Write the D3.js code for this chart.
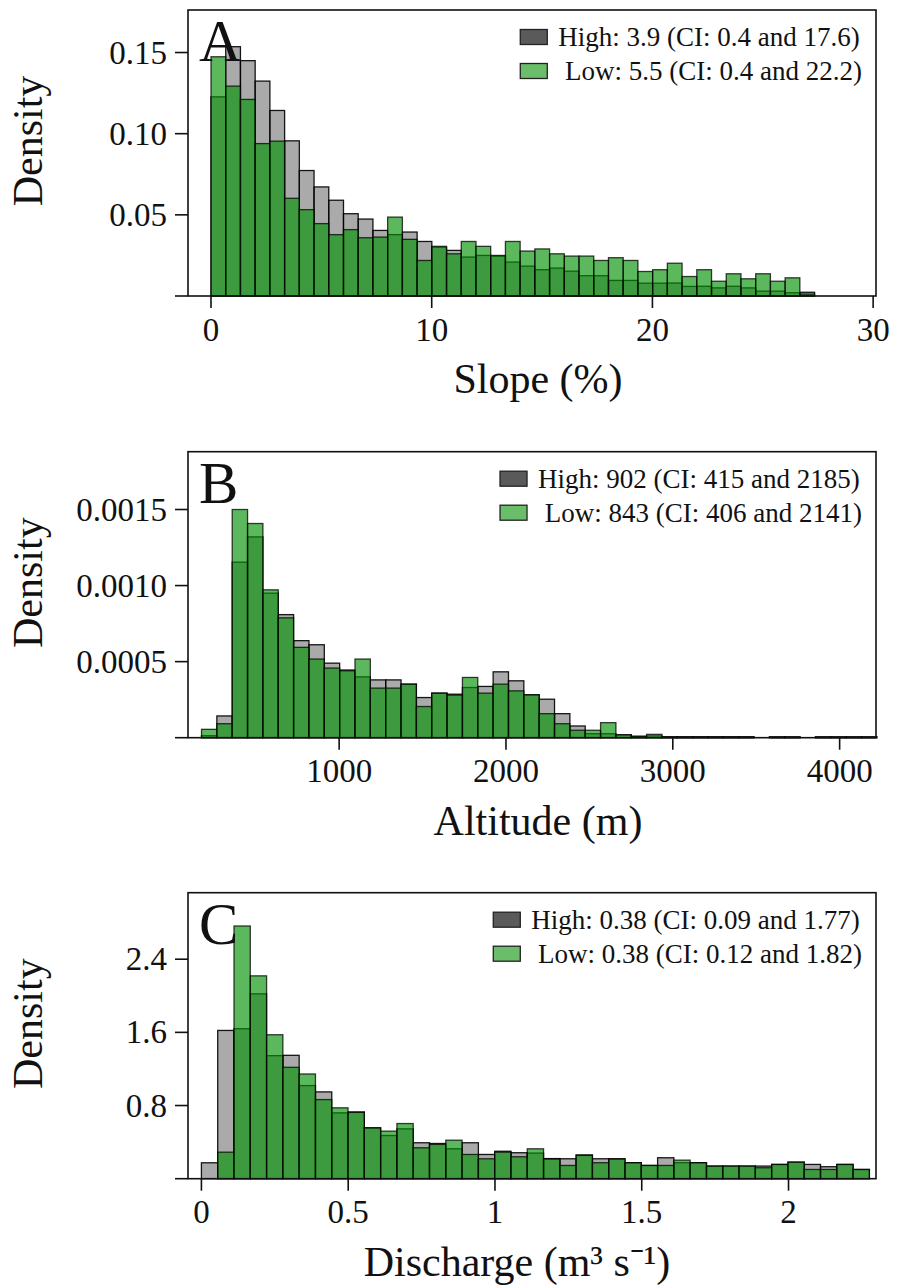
<!DOCTYPE html>
<html>
<head>
<meta charset="utf-8">
<script src="https://cdn.jsdelivr.net/npm/d3@7"></script>
<style>
  body { margin: 0; background: #fff; }
  svg text { font-family: "Liberation Serif", "Times New Roman", serif; fill: #111; white-space: pre; }
</style>
</head>
<body>
<svg width="898" height="1288"></svg>
<script>
// ---- data (density per bin) ----
var slopeStart = 0, slopeBinW = 0.667;
var slopeHigh = [0.1227,0.1536,0.145,0.1324,0.1143,0.0956,0.0773,0.0672,0.059,0.0507,0.0474,0.0404,0.0378,0.0394,0.0336,0.030,0.0281,0.024,0.025,0.0245,0.0209,0.0184,0.0162,0.0172,0.0153,0.0125,0.0125,0.0096,0.0096,0.0079,0.0079,0.008,0.0059,0.006,0.005,0.006,0.005,0.003,0.003,0.002,0.0023];
var slopeLow = [0.1474,0.1293,0.1211,0.0939,0.0954,0.0602,0.0532,0.0446,0.0378,0.0409,0.0359,0.0363,0.0486,0.0349,0.0219,0.0306,0.026,0.0336,0.0306,0.025,0.0336,0.0277,0.029,0.026,0.0246,0.0246,0.0219,0.0236,0.0219,0.0151,0.0162,0.0202,0.012,0.0162,0.0091,0.0137,0.0106,0.0137,0.0091,0.0112,0.0012];
var slopeTicksX = [0, 10, 20, 30];
var slopeTicksY = [0, 0.05, 0.10, 0.15];

var altStart = 175, altBinW = 92;
var altHigh = [0.000013,0.000143,0.001154,0.00132,0.00095,0.000809,0.000638,0.000611,0.00049,0.000445,0.0004,0.00038,0.00038,0.000352,0.000264,0.000293,0.000286,0.00033,0.000337,0.000433,0.000374,0.000282,0.000253,0.000158,0.000077,0.000026,0.000026,0.000018,0.000008,0.000012,0.000006,0.000006,0.000006,0.000006,0.000006,0.000006,0,0.000006,0.000006,0,0.000006,0.000006,0.000006,0.000006];
var altLow = [0.000055,0.000092,0.0015,0.001408,0.000972,0.000788,0.000594,0.000517,0.000458,0.00044,0.000517,0.000326,0.000326,0.000352,0.000205,0.000293,0.00028,0.000396,0.000293,0.000352,0.000308,0.000282,0.000158,0.000092,0.000049,0.000049,0.000099,0.00002,0.00001,0.000022,0.000005,0.000005,0.000005,0.000005,0.000005,0.000005,0,0.000004,0.000004,0,0.000004,0.000004,0.000004,0.000004];
var altTicksX = [1000, 2000, 3000, 4000];
var altTicksY = [0, 0.0005, 0.0010, 0.0015];

var qStart = 0, qBinW = 0.0555;
var qHigh = [0.174,1.621,1.64,2.021,1.345,1.349,1.018,0.949,0.72,0.73,0.556,0.472,0.545,0.393,0.385,0.327,0.393,0.265,0.30,0.284,0.28,0.22,0.218,0.26,0.218,0.218,0.175,0.145,0.229,0.175,0.175,0.138,0.138,0.138,0.138,0.156,0.181,0.156,0.131,0.156,0.101];
var qLow = [0,0.29,2.763,2.218,1.574,1.218,1.145,0.865,0.775,0.725,0.556,0.52,0.603,0.338,0.375,0.421,0.265,0.218,0.29,0.24,0.327,0.215,0.145,0.255,0.175,0.215,0.175,0.145,0.145,0.203,0.175,0.138,0.138,0.138,0.12,0.156,0.181,0.101,0.101,0.156,0.101];
var qTicksX = [0, 0.5, 1, 1.5, 2];
var qTicksY = [0, 0.8, 1.6, 2.4];

var svg = d3.select('svg');
var frameL = 188, frameR = 876, frameH = 286;

var drawPanel = function(p){
	var g = svg.append('g');
	var x = d3.scaleLinear().domain(p.xDom).range([frameL, frameR]);
	var y = d3.scaleLinear().domain([0, p.yMax]).range([p.top + frameH, p.top]);
	var y0 = y(0);

	// bars: High (grey) first, Low (green) on top
	var series = [
		{vals: p.high, fill: 'rgb(85,85,85)', op: 0.5, sop: 0.9},
		{vals: p.low, fill: 'rgb(4,146,4)', op: 0.65, sop: 0.75}
	];
	series.forEach(function(s){
		g.append('g').selectAll('rect')
			.data(s.vals.map(function(v, i){ return {v: v, i: i}; }).filter(function(d){ return d.v > 0; }))
			.enter().append('rect')
			.attr('x', function(d){ return x(p.start + d.i*p.binW); })
			.attr('width', function(d){ return x(p.start + (d.i+1)*p.binW) - x(p.start + d.i*p.binW); })
			.attr('y', function(d){ return y(d.v); })
			.attr('height', function(d){ return y0 - y(d.v); })
			.attr('fill', s.fill).attr('fill-opacity', s.op)
			.attr('stroke', '#000').attr('stroke-opacity', s.sop).attr('stroke-width', 1.3);
	});

	// frame
	g.append('rect').attr('x', frameL).attr('y', p.top).attr('width', frameR-frameL).attr('height', frameH)
		.attr('fill', 'none').attr('stroke', '#111').attr('stroke-width', 1.6);

	// x axis ticks
	var xt = g.append('g');
	p.ticksX.forEach(function(t){
		xt.append('line').attr('x1', x(t)).attr('x2', x(t)).attr('y1', y0).attr('y2', y0+12)
			.attr('stroke', '#111').attr('stroke-width', 1.6);
		xt.append('text').attr('x', x(t)).attr('y', y0+44.5).attr('text-anchor', 'middle')
			.style('font-size', '33px').text(p.fmtX(t));
	});
	// y axis ticks
	p.ticksY.forEach(function(t){
		xt.append('line').attr('x1', frameL-13).attr('x2', frameL).attr('y1', y(t)).attr('y2', y(t))
			.attr('stroke', '#111').attr('stroke-width', 1.6);
		if (t > 0) {
			xt.append('text').attr('x', frameL-21).attr('y', y(t)+11).attr('text-anchor', 'end')
				.style('font-size', '33px').text(p.fmtY(t));
		}
	});

	// axis titles
	g.append('text').attr('x', p.xLabX).attr('y', y0+97).attr('text-anchor', 'middle')
		.style('font-size', '42px').text(p.xLabel);
	g.append('text').attr('transform', 'translate(42,' + (p.top + frameH/2 - 12) + ') rotate(-90)')
		.attr('text-anchor', 'middle').style('font-size', '42px').text('Density');

	// panel letter
	g.append('text').attr('x', 199).attr('y', p.top+51).style('font-size', '59px').text(p.letter);

	// legend
	var leg = g.append('g');
	var labels = [p.legHigh, ' ' + p.legLow];
	var items = labels.map(function(l, i){
		return leg.append('text').attr('y', p.top + 27 + i*34 + 9).style('font-size', '27px').text(l);
	});
	var w = d3.max(items, function(t){ return t.node().getComputedTextLength(); });
	var tx = 862 - w;
	items.forEach(function(t){ t.attr('x', tx); });
	var patchFill = ['rgb(90,90,90)', 'rgb(106,190,106)'];
	[0, 1].forEach(function(i){
		leg.append('rect').attr('x', tx-38).attr('y', p.top + 27 + i*34 - 7.5).attr('width', 27).attr('height', 15)
			.attr('fill', patchFill[i]).attr('stroke', '#222').attr('stroke-width', 1.3);
	});
};

drawPanel({
	letter: 'A', top: 10, xDom: [-1.042, 30.13], yMax: 0.1762,
	start: slopeStart, binW: slopeBinW, high: slopeHigh, low: slopeLow,
	ticksX: slopeTicksX, ticksY: slopeTicksY,
	fmtX: d3.format('d'), fmtY: d3.format('.2f'),
	xLabel: 'Slope (%)', xLabX: 538,
	legHigh: 'High: 3.9 (CI: 0.4 and 17.6)', legLow: 'Low: 5.5 (CI: 0.4 and 22.2)'
});
drawPanel({
	letter: 'B', top: 451.7, xDom: [94, 4218], yMax: 0.00188,
	start: altStart, binW: altBinW, high: altHigh, low: altLow,
	ticksX: altTicksX, ticksY: altTicksY,
	fmtX: d3.format('d'), fmtY: d3.format('.4f'),
	xLabel: 'Altitude (m)', xLabX: 538,
	legHigh: 'High: 902 (CI: 415 and 2185)', legLow: 'Low: 843 (CI: 406 and 2141)'
});
drawPanel({
	letter: 'C', top: 892.7, xDom: [-0.0457, 2.298], yMax: 3.127,
	start: qStart, binW: qBinW, high: qHigh, low: qLow,
	ticksX: qTicksX, ticksY: qTicksY,
	fmtX: function(v){ return String(v); }, fmtY: d3.format('.1f'),
	xLabel: 'Discharge (m³ s⁻¹)', xLabX: 517,
	legHigh: 'High: 0.38 (CI: 0.09 and 1.77)', legLow: 'Low: 0.38 (CI: 0.12 and 1.82)'
});
</script>
</body>
</html>
